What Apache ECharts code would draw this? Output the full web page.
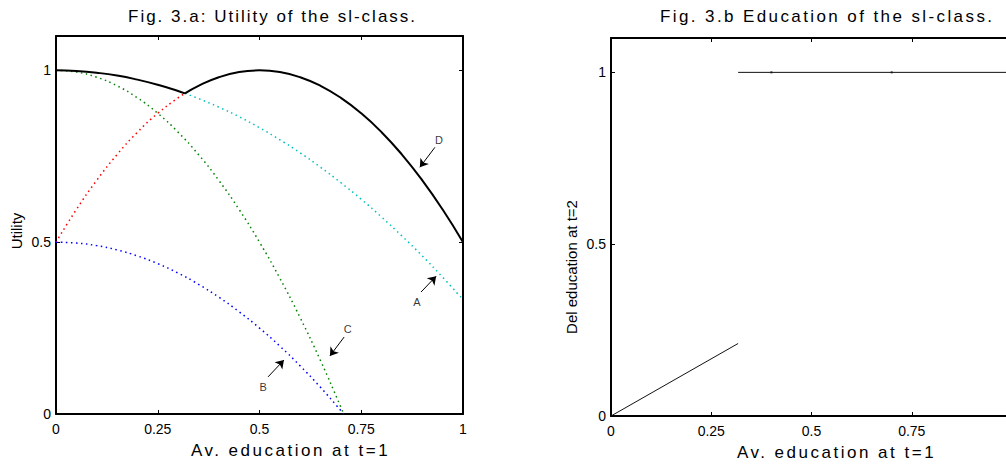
<!DOCTYPE html>
<html><head><meta charset="utf-8">
<script src="https://cdn.jsdelivr.net/npm/echarts@6/dist/echarts.min.js"></script>
<style>html,body{margin:0;padding:0;background:#fff}#c{width:1006px;height:469px}</style>
</head><body><div id="c"></div>
<script>
// ---- data ----
const xTicks = [0, 0.25, 0.5, 0.75, 1];
const xTicksRightPanel = [0, 0.25, 0.5, 0.75];   // "1" lies beyond the right edge of the picture
const yTicks = [0, 0.5, 1];

// Fig 3.a curves
const redX   = [0, 0.05, 0.1, 0.15, 0.2, 0.25, 0.3, 0.317];
const redY   = [0.5, 0.595, 0.68, 0.755, 0.82, 0.875, 0.92, 0.933];
const greenX = [0, 0.05, 0.1, 0.15, 0.2, 0.25, 0.3, 0.35, 0.4, 0.45, 0.5, 0.55, 0.6, 0.65, 0.7, 0.707];
const greenY = [1, 0.995, 0.98, 0.955, 0.92, 0.875, 0.82, 0.755, 0.68, 0.595, 0.5, 0.395, 0.28, 0.155, 0.02, 0];
const blueX  = [0, 0.05, 0.1, 0.15, 0.2, 0.25, 0.3, 0.35, 0.4, 0.45, 0.5, 0.55, 0.6, 0.65, 0.7, 0.707];
const blueY  = [0.5, 0.4975, 0.49, 0.4775, 0.46, 0.4375, 0.41, 0.3775, 0.34, 0.2975, 0.25, 0.1975, 0.14, 0.0775, 0.01, 0];
const cyanX  = [0.317, 0.35, 0.4, 0.45, 0.5, 0.55, 0.6, 0.65, 0.7, 0.75, 0.8, 0.85, 0.9, 0.95, 1];
const cyanY  = [0.933, 0.918, 0.893, 0.865, 0.833, 0.798, 0.76, 0.718, 0.673, 0.625, 0.573, 0.518, 0.46, 0.398, 0.333];
const dLeftX  = [0, 0.05, 0.1, 0.15, 0.2, 0.25, 0.3, 0.317];
const dLeftY  = [1, 0.998, 0.993, 0.985, 0.973, 0.958, 0.94, 0.933];
const dRightX = [0.317, 0.35, 0.4, 0.45, 0.5, 0.55, 0.6, 0.65, 0.7, 0.75, 0.8, 0.85, 0.9, 0.95, 1];
const dRightY = [0.933, 0.955, 0.98, 0.995, 1, 0.995, 0.98, 0.955, 0.92, 0.875, 0.82, 0.755, 0.68, 0.595, 0.5];

// annotations: label, label position, arrow start, arrow end
const annLabels = ['A', 'B', 'C', 'D'];
const annText   = [[0.887, 0.326], [0.509, 0.078], [0.717, 0.247], [0.941, 0.797]];
const annFrom   = [[0.897, 0.355], [0.521, 0.108], [0.708, 0.224], [0.931, 0.776]];
const annTo     = [[0.934, 0.401], [0.560, 0.157], [0.673, 0.169], [0.894, 0.718]];

// Fig 3.b
const eduLowX  = [0, 0.317];
const eduLowY  = [0, 0.211];
const eduHighX = [0.317, 0.4, 0.7, 1];
const eduHighY = [1, 1, 1, 1];
const eduDotX  = [0.4, 0.7];
const eduDotY  = [1, 1];

const zip = (xs, ys) => xs.map((x, i) => [x, ys[i]]);

const FONT = 'Liberation Sans, Arial, sans-serif';

function axes(gi, xName, xLabelVals, xNamePad, yName) {
  const common = {
    type: 'value', gridIndex: gi, splitLine: { show: false },
    axisLine: { onZero: false, lineStyle: { color: '#000', width: 2 } },
    axisTick: { inside: true, length: 4, lineStyle: { color: '#000', width: 1 } }
  };
  const xa = [
    Object.assign({}, common, {
      min: 0, max: 1, position: 'bottom',
      axisTick: Object.assign({}, common.axisTick, { customValues: xTicks }),
      axisLabel: { customValues: xLabelVals, color: '#000', fontSize: 14, fontFamily: FONT, margin: 8, formatter: v => String(v) },
      name: xName, nameLocation: 'middle', nameGap: 28,
      nameTextStyle: { color: '#000', fontSize: 17, fontFamily: FONT, padding: [0, 0, 0, xNamePad] }
    }),
    Object.assign({}, common, {
      min: 0, max: 1, position: 'top',
      axisTick: Object.assign({}, common.axisTick, { customValues: xTicks }),
      axisLabel: { show: false }
    })
  ];
  const ya = [
    Object.assign({}, common, {
      min: 0, max: 1.1, position: 'left',
      axisTick: Object.assign({}, common.axisTick, { customValues: yTicks }),
      axisLabel: { customValues: yTicks, color: '#000', fontSize: 14, fontFamily: FONT, margin: 5, formatter: v => String(v) },
      name: yName.text, nameLocation: 'middle', nameGap: yName.gap,
      nameTextStyle: { color: '#000', fontSize: yName.size, fontFamily: FONT, padding: yName.pad }
    }),
    Object.assign({}, common, {
      min: 0, max: 1.1, position: 'right',
      axisTick: Object.assign({}, common.axisTick, { customValues: yTicks }),
      axisLabel: { show: false }
    })
  ];
  return { xa, ya };
}

const a0 = axes(0, 'Av. education at t=1', xTicks, 62, { text: 'Utility', gap: 32, size: 15, pad: [0, 12, 0, 0] });
const a1 = axes(1, 'Av. education at t=1', xTicksRightPanel, 50, { text: 'Del education at t=2', gap: 32, size: 15, pad: [0, 80, 0, 0] });

function dotted(name, xs, ys, color) {
  return {
    name, type: 'line', xAxisIndex: 0, yAxisIndex: 0, data: zip(xs, ys),
    smooth: true, showSymbol: false, silent: true,
    lineStyle: { color, width: 1.5, type: [1.5, 3.5], cap: 'butt' }
  };
}

const series = [
  dotted('red', redX, redY, '#ff0000'),
  dotted('C', greenX, greenY, '#008000'),
  dotted('B', blueX, blueY, '#0000ff'),
  dotted('A', cyanX, cyanY, '#00bfbf'),
  { name: 'D1', type: 'line', xAxisIndex: 0, yAxisIndex: 0, data: zip(dLeftX, dLeftY), smooth: true, showSymbol: false,
    lineStyle: { color: '#000', width: 2 } },
  { name: 'D2', type: 'line', xAxisIndex: 0, yAxisIndex: 0, data: zip(dRightX, dRightY), smooth: true, showSymbol: false,
    lineStyle: { color: '#000', width: 2 } },
  { name: 'arrows', type: 'lines', coordinateSystem: 'cartesian2d', xAxisIndex: 0, yAxisIndex: 0,
    symbol: ['none', 'arrow'], symbolSize: 8, silent: true,
    lineStyle: { color: '#000', width: 1, opacity: 1, curveness: 0 },
    data: annFrom.map((f, i) => ({ coords: [f, annTo[i]] })) },
  { name: 'labels', type: 'scatter', xAxisIndex: 0, yAxisIndex: 0, symbolSize: 0, silent: true,
    data: annText.map((p, i) => ({ value: p, label: { formatter: annLabels[i] } })),
    label: { show: true, position: 'inside', color: '#000', fontSize: 11, fontFamily: FONT } },
  { name: 'eduLow', type: 'line', xAxisIndex: 2, yAxisIndex: 2, data: zip(eduLowX, eduLowY), showSymbol: false,
    lineStyle: { color: '#111', width: 1 } },
  { name: 'eduHigh', type: 'line', xAxisIndex: 2, yAxisIndex: 2, data: zip(eduHighX, eduHighY), showSymbol: false,
    lineStyle: { color: '#111', width: 1 } },
  { name: 'eduDots', type: 'scatter', xAxisIndex: 2, yAxisIndex: 2, data: zip(eduDotX, eduDotY), symbol: 'rect', symbolSize: 2,
    itemStyle: { color: '#000' }, silent: true }
];

const option = {
  animation: false,
  backgroundColor: '#fff',
  title: [
    { text: 'Fig. 3.a: Utility of the sl-class.', left: 123, top: 3, textStyle: { color: '#000', fontSize: 17, fontWeight: 'normal', fontFamily: FONT } },
    { text: 'Fig. 3.b Education of the sl-class.', left: 655, top: 3, textStyle: { color: '#000', fontSize: 17, fontWeight: 'normal', fontFamily: FONT } }
  ],
  grid: [
    { left: 56, top: 36, width: 407, height: 378, outerBoundsMode: 'none' },
    { left: 611, top: 38, width: 401, height: 378, outerBoundsMode: 'none' }
  ],
  xAxis: [a0.xa[0], a0.xa[1], a1.xa[0], a1.xa[1]],
  yAxis: [a0.ya[0], a0.ya[1], a1.ya[0], a1.ya[1]],
  series
};
option.xAxis[2].gridIndex = 1; option.xAxis[3].gridIndex = 1;
option.yAxis[2].gridIndex = 1; option.yAxis[3].gridIndex = 1;

const chart = echarts.init(document.getElementById('c'), null, { renderer: 'svg' });
chart.setOption(option);
function spacing() {
  document.querySelectorAll('#c svg text').forEach(t => {
    const s = t.textContent || '';
    if (s.startsWith('Fig. 3.a')) t.style.letterSpacing = '2px';
    else if (s.startsWith('Fig. 3.b')) t.style.letterSpacing = '2.4px';
    else if (s.startsWith('Av.')) t.style.letterSpacing = '2.5px';
  });
}
spacing();
chart.on('finished', spacing);
</script>
</body></html>
